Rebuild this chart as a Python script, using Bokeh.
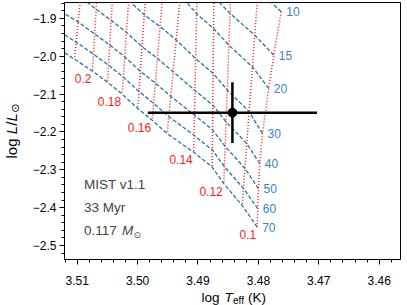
import math
from bokeh.plotting import figure
from bokeh.layouts import row, column
from bokeh.models import Range1d, Label, CustomJSTickFormatter, SingleIntervalTicker
from bokeh.core.properties import value
from bokeh.embed import file_html
from bokeh.resources import INLINE

# ---------------- data ----------------
masses = [0.10, 0.11, 0.12, 0.13, 0.14, 0.15, 0.16, 0.17, 0.18, 0.19, 0.20, 0.21, 0.22]
mass_labels = ["0.1", "0.12", "0.14", "0.16", "0.18", "0.2"]
ages = [10, 15, 20, 30, 40, 50, 60, 70]
age_labels = ["10", "15", "20", "30", "40", "50", "60", "70"]

logt_10 = [3.47622, 3.48005, 3.48442, 3.48730, 3.48998, 3.49169, 3.49457, 3.49748, 3.50007, 3.50285, 3.50533, 3.50689, 3.51075]
logl_10 = [-1.8826, -1.8259, -1.7685, -1.7246, -1.6857, -1.6363, -1.6011, -1.5701, -1.5323, -1.5005, -1.4714, -1.4397, -1.4080]
logt_15 = [3.47745, 3.48060, 3.48469, 3.48737, 3.49013, 3.49240, 3.49520, 3.49800, 3.50058, 3.50330, 3.50578, 3.50763, 3.51134]
logl_15 = [-1.9971, -1.9445, -1.8871, -1.8431, -1.8043, -1.7548, -1.7196, -1.6886, -1.6508, -1.6191, -1.5900, -1.5582, -1.5265]
logt_20 = [3.47828, 3.48099, 3.48488, 3.48742, 3.49023, 3.49290, 3.49565, 3.49836, 3.50094, 3.50361, 3.50609, 3.50816, 3.51176]
logl_20 = [-2.0852, -2.0283, -1.9709, -1.9270, -1.8881, -1.8386, -1.8035, -1.7725, -1.7347, -1.7029, -1.6738, -1.6421, -1.6103]
logt_30 = [3.47932, 3.48154, 3.48515, 3.48750, 3.49038, 3.49361, 3.49628, 3.49889, 3.50147, 3.50406, 3.50654, 3.50889, 3.51235]
logl_30 = [-2.2043, -2.1466, -2.0892, -2.0453, -2.0064, -1.9569, -1.9217, -1.8908, -1.8529, -1.8212, -1.7921, -1.7603, -1.7286]
logt_40 = [3.47977, 3.48192, 3.48535, 3.48755, 3.49050, 3.49412, 3.49672, 3.49926, 3.50184, 3.50437, 3.50686, 3.50942, 3.51278]
logl_40 = [-2.2836, -2.2307, -2.1733, -2.1294, -2.0905, -2.0410, -2.0058, -1.9749, -1.9371, -1.9053, -1.8762, -1.8445, -1.8127]
logt_50 = [3.47998, 3.48224, 3.48550, 3.48758, 3.49058, 3.49450, 3.49705, 3.49954, 3.50212, 3.50462, 3.50710, 3.50984, 3.51310]
logl_50 = [-2.3498, -2.2958, -2.2384, -2.1945, -2.1556, -2.1061, -2.0709, -2.0400, -2.0021, -1.9704, -1.9413, -1.9095, -1.8778]
logt_60 = [3.48010, 3.48247, 3.48563, 3.48762, 3.49065, 3.49484, 3.49735, 3.49977, 3.50235, 3.50482, 3.50730, 3.51017, 3.51336]
logl_60 = [-2.4027, -2.3490, -2.2916, -2.2476, -2.2087, -2.1593, -2.1241, -2.0931, -2.0553, -2.0236, -1.9945, -1.9627, -1.9310]
logt_70 = [3.48020, 3.48268, 3.48573, 3.48765, 3.49070, 3.49510, 3.49758, 3.49997, 3.50255, 3.50498, 3.50747, 3.51045, 3.51359]
logl_70 = [-2.4513, -2.3939, -2.3365, -2.2926, -2.2537, -2.2043, -2.1691, -2.1381, -2.1003, -2.0685, -2.0394, -2.0077, -1.9759]

star_logt = 3.4843
star_logt_err = 0.014
star_logl = -2.149
star_logl_err = 0.08

x_tick_step = 0.01
y_tick_step = 0.1
x_lo, x_hi = 3.5121, 3.45647
y_lo, y_hi = -2.5368, -1.8582

iso_t = [logt_10, logt_15, logt_20, logt_30, logt_40, logt_50, logt_60, logt_70]
iso_l = [logl_10, logl_15, logl_20, logl_30, logl_40, logl_50, logl_60, logl_70]

# ---------------- layout (page pixels) ----------------
FONT = "Liberation Sans"
BLUE = "#1f77b4"
BLUE_TXT = "#3a80c2"
RED = "#ff1a1a"

PAGE_W, PAGE_H = 407, 305
YLAB_W = 22          # strip for the y axis title
XLAB_H = 15          # strip for the x axis title
FRAME_L, FRAME_R, FRAME_T, FRAME_B = 64, 400, 2, 259

PW = PAGE_W - YLAB_W
PH = PAGE_H - XLAB_H

p = figure(width=PW, height=PH, output_backend="svg", toolbar_location=None,
           title=None, x_range=Range1d(x_lo, x_hi), y_range=Range1d(y_lo, y_hi),
           min_border_left=FRAME_L - YLAB_W, min_border_top=FRAME_T,
           min_border_right=PAGE_W - FRAME_R, min_border_bottom=PH - FRAME_B)
p.frame_align = False
p.background_fill_color = "white"
p.border_fill_color = "white"
p.outline_line_color = "black"
p.outline_line_width = 1
p.xgrid.visible = False
p.ygrid.visible = False

sx = (x_lo - x_hi) / (FRAME_R - FRAME_L)
sy = (y_hi - y_lo) / (FRAME_B - FRAME_T)


def X(px):  # page px -> data
    return x_lo - (px - FRAME_L) * sx


def Y(py):
    return y_hi - (py - FRAME_T) * sy


for ax in (p.xaxis[0], p.yaxis[0]):
    ax.axis_line_color = "black"
    ax.major_tick_line_color = "black"
    ax.minor_tick_line_color = "black"
    ax.major_tick_out = 5
    ax.major_tick_in = 0
    ax.minor_tick_out = 3
    ax.minor_tick_in = 0
    ax.major_label_text_font = FONT
    ax.major_label_text_font_size = "12px"
    ax.major_label_text_color = "black"
    ax.axis_label = None
p.xaxis[0].major_label_standoff = 11
p.yaxis[0].major_label_standoff = 3

p.xaxis[0].ticker = SingleIntervalTicker(interval=x_tick_step, num_minor_ticks=5)
p.yaxis[0].ticker = SingleIntervalTicker(interval=y_tick_step, num_minor_ticks=5)
p.xaxis[0].formatter = CustomJSTickFormatter(code="return tick.toFixed(2);")
p.yaxis[0].formatter = CustomJSTickFormatter(
    code="return (tick < 0 ? '\u2212' : '') + Math.abs(tick).toFixed(1);")

# isochrones (blue dashed)
for t, l in zip(iso_t, iso_l):
    p.line(t, l, line_color=BLUE, line_dash="4 2", line_width=1.3)

# mass tracks (red dotted) from the same grid
for i in range(len(masses)):
    p.line([t[i] for t in iso_t], [l[i] for l in iso_l], line_color=RED,
           line_dash="1 2", line_width=1.5)

# age labels at the 0.1 Msun end
p.text([t[0] for t in iso_t], [l[0] for l in iso_l], text=age_labels,
       text_font=value(FONT), text_font_size="12px", text_color=BLUE_TXT,
       text_align="left", text_baseline="middle", x_offset=5)

# mass labels at the oldest isochrone
lab_idx = [masses.index(float(m)) for m in mass_labels]
p.text([logt_70[i] for i in lab_idx], [logl_70[i] for i in lab_idx], text=mass_labels,
       text_font=value(FONT), text_font_size="12px", text_color=RED,
       text_align="right", text_baseline="top", x_offset=-1, y_offset=3)

# star with error bars
p.segment([star_logt - star_logt_err], [star_logl], [star_logt + star_logt_err], [star_logl],
          line_color="black", line_width=2.5)
p.segment([star_logt], [star_logl - star_logl_err], [star_logt], [star_logl + star_logl_err],
          line_color="black", line_width=2.5)
p.scatter([star_logt], [star_logl], size=9, color="black")

# text box
TS = "13.5px"
for txt, yy in (("MIST v1.1", 184), ("33 Myr", 207), ("0.117", 230)):
    p.add_layout(Label(x=X(83.5), y=Y(yy), text=txt, text_font=FONT, text_font_size=TS,
                       text_baseline="middle", text_align="left"))
p.add_layout(Label(x=X(121.5), y=Y(230), text="M", text_font=FONT, text_font_size=TS,
                   text_font_style="italic", text_baseline="middle"))
p.add_layout(Label(x=X(133), y=Y(234), text="\u2299", text_font="DejaVu Sans",
                   text_font_size="9px", text_baseline="middle"))


def strip(w, h, x0, y0):
    f = figure(width=w, height=h, output_backend="svg", toolbar_location=None, title=None,
               x_range=Range1d(x0, x0 + w), y_range=Range1d(y0 + h, y0), min_border=0,
               x_axis_location=None, y_axis_location=None)
    f.frame_align = False
    f.outline_line_color = None
    f.xgrid.visible = False
    f.ygrid.visible = False
    f.background_fill_color = "white"
    f.border_fill_color = "white"
    return f


# x axis title: log T_eff (K)   (coordinates are page pixels)
fx = strip(PW, XLAB_H, YLAB_W, PH)
MID = 297
fx.text([201.0], [MID], text=["log"], text_font=value(FONT), text_font_size="13.5px",
        text_baseline="middle")
fx.text([224.0], [MID], text=["T"], text_font=value(FONT), text_font_size="13.5px",
        text_font_style="italic", text_baseline="middle")
fx.text([232.5], [MID + 3], text=["eff"], text_font=value(FONT), text_font_size="10px",
        text_baseline="middle")
fx.text([247.5], [MID], text=["(K)"], text_font=value(FONT), text_font_size="13.5px",
        text_baseline="middle")

# y axis title: log L/L_sun (rotated)
fy = strip(YLAB_W, PAGE_H, 0, 0)
ang = math.pi / 2
CX = 11
fy.text([CX], [158], text=["log"], text_font=value(FONT), text_font_size="15px",
        angle=ang, text_baseline="middle")
fy.text([CX], [133.8], text=["L"], text_font=value(FONT), text_font_size="15px",
        angle=ang, text_baseline="middle", text_font_style="italic")
fy.text([CX], [125.3], text=["/"], text_font=value(FONT), text_font_size="15px",
        angle=ang, text_baseline="middle")
fy.text([CX], [121.0], text=["L"], text_font=value(FONT), text_font_size="15px",
        angle=ang, text_baseline="middle", text_font_style="italic")
fy.text([CX + 3.5], [112.2], text=["\u2299"], text_font=value("DejaVu Sans"),
        text_font_size="11px", angle=ang, text_baseline="middle")

layout = row(fy, column(p, fx))
open("out.html", "w").write(file_html(layout, INLINE))
